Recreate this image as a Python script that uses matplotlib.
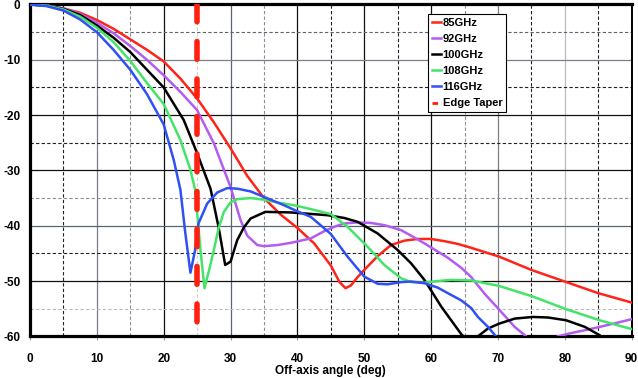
#!/usr/bin/env python3

import matplotlib
matplotlib.use("Agg")
import matplotlib.pyplot as plt
from matplotlib.lines import Line2D

plt.rcParams['font.family'] = ['Liberation Sans', 'DejaVu Sans']
plt.rcParams['font.weight'] = 'bold'
plt.rcParams['axes.unicode_minus'] = False

# Datos (angulo en grados, nivel en dB)
ang_85 = [0, 2.5, 5, 7.5, 10, 12.5, 15, 17.5, 20, 22.5, 25, 27.5, 30, 32.5, 35, 37.5, 40, 42.5, 45, 46.3,
          47.2, 48, 49, 50, 52, 54, 56, 58, 60, 62, 64, 66, 70.2, 75, 80, 85, 90]
db_85 = [0, -0.2, -0.7, -1.5, -2.8, -4.4, -6.3, -8.2, -10.3, -13.4, -17.0, -21.3, -26, -31.0, -35.0,
         -38.0, -40.4, -43.2, -47.2, -50.2, -51.3, -50.8, -49.3, -48.0, -45.5, -43.5, -42.7, -42.4,
         -42.4, -42.8, -43.3, -44.0, -45.6, -48.0, -50.1, -52.2, -53.9]

ang_92 = [0, 2.5, 5, 7.5, 10, 12.5, 15, 17.5, 20, 22.5, 25, 27.5, 30, 31.5, 32.5, 34, 35, 37, 39, 42, 44,
          45.5, 47, 49, 51, 53, 55.5, 57, 59, 62.5, 64.5, 66, 68, 70.2, 72.5, 74.5, 76.5, 79, 81, 83,
          85.2, 88, 90]
db_92 = [0, -0.2, -0.7, -1.7, -3.3, -5.2, -7.5, -10.0, -12.8, -15.8, -19.1, -25.1, -33.0, -39.0, -41.8,
         -43.5, -43.7, -43.5, -43.1, -42.3, -41.0, -40.2, -39.6, -39.4, -39.5, -39.9, -40.8, -41.8,
         -43.2, -45.8, -47.6, -49.3, -52.3, -55.2, -58.3, -60.3, -61.3, -60.0, -59.4, -58.9, -58.3,
         -57.5, -56.9]

ang_100 = [0, 2.5, 5, 7.5, 10, 12.5, 15, 17.5, 20, 23, 25, 27, 28.2, 29.2, 30, 31, 32, 33, 35.2, 39, 44.5,
           47, 49, 52, 55, 57, 59, 61.5, 64.5, 65.7, 67, 68.5, 70.2, 72.5, 75.2, 77.5, 80.2, 83, 85.2,
           86.5]
db_100 = [0, -0.2, -0.8, -1.9, -3.8, -6.0, -8.6, -11.8, -15.0, -20.9, -26.9, -33.3, -40.2, -47.1, -46.5,
          -42.6, -40.3, -38.7, -37.5, -37.6, -38.1, -38.6, -39.3, -41.4, -44.4, -46.8, -49.8, -54.6,
          -59.6, -61.0, -60.0, -58.6, -57.7, -56.8, -56.5, -56.6, -57.1, -58.3, -59.8, -61.0]

ang_108 = [0, 2.5, 5, 7.5, 10, 12.5, 15, 17.5, 20, 22.5, 24, 24.7, 25.5, 26.1, 26.8, 27.5, 28.2, 29, 30,
           31, 33, 35, 37, 39.5, 42, 45, 47.5, 50.5, 53, 55.5, 57, 59, 61, 63, 66, 70.2, 75.2, 80.2,
           85.2, 90]
db_108 = [0, -0.2, -0.9, -2.2, -4.2, -6.8, -10.2, -14.2, -18.0, -24.5, -29.9, -33.5, -44.4, -51.3, -48.0,
          -44.4, -40.5, -37.5, -35.8, -35.2, -35.0, -35.3, -35.8, -36.3, -37.0, -37.9, -40.2, -43.8,
          -47.1, -49.5, -50.2, -50.3, -50.0, -49.8, -49.9, -50.9, -52.8, -55.1, -57.1, -58.7]

ang_116 = [0, 2.5, 5, 7.5, 10, 12.5, 15, 17.5, 20, 21.5, 22.5, 23.2, 24, 24.7, 25.2, 26.5, 28, 29.5, 31,
           33, 35, 38, 40, 42, 45, 47.5, 50, 52, 53.5, 55.5, 57, 59, 61, 62.5, 64.5, 66, 67, 68.5, 69.7,
           71]
db_116 = [0, -0.3, -1.1, -2.7, -5.0, -8.2, -11.8, -16.2, -21.7, -28.1, -33.5, -41.0, -48.5, -44.4, -39.6,
          -36.0, -34.0, -33.2, -33.3, -33.8, -34.8, -36.3, -37.4, -38.4, -41.5, -45.6, -49.2, -50.5,
          -50.6, -50.2, -50.1, -50.4, -51.2, -52.2, -53.5, -54.9, -56.5, -58.3, -60.0, -62.0]

edge_taper_deg = 25

series = [
    (ang_85, db_85, '85GHz', '#ff2318'),
    (ang_92, db_92, '92GHz', '#b45cf0'),
    (ang_100, db_100, '100GHz', '#000000'),
    (ang_108, db_108, '108GHz', '#44e468'),
    (ang_116, db_116, '116GHz', '#3050f4'),
]

fig = plt.figure(figsize=(6.38, 3.78), dpi=100)
ax = fig.add_axes([0.047, 0.1103, 0.9431, 0.8778])

ax.set_xlim(0, 90)
ax.set_ylim(-60, 0)

# Rejilla (colores variables como en la imagen original)
vmajor = {10: '#7a7f88', 20: '#111111', 30: '#5a6470', 40: '#111111', 50: '#111111',
          60: '#111111', 70: '#7a7f88', 80: '#b8bcc0'}
vminor = {5: '#222222', 15: '#8a9098', 25: '#d0d0d0', 35: '#8a9098', 45: '#222222',
          55: '#222222', 65: '#8a9098', 75: '#222222', 85: '#222222'}
hmajor = {-10: '#7a7f88', -20: '#111111', -30: '#111111', -40: '#5a6470', -50: '#111111'}
hminor = {-5: '#5a6470', -15: '#222222', -25: '#222222', -35: '#8a9098', -45: '#222222',
          -55: '#b8bcc0'}
for xv, c in vmajor.items():
    ax.axvline(xv, color=c, lw=0.9, zorder=1)
for xv, c in vminor.items():
    ax.axvline(xv, color=c, lw=0.8, ls=(0, (3, 2)), zorder=1)
for yv, c in hmajor.items():
    ax.axhline(yv, color=c, lw=0.9, zorder=1)
for yv, c in hminor.items():
    ax.axhline(yv, color=c, lw=0.8, ls=(0, (3, 2)), zorder=1)

for ang, db, lab, col in series:
    ax.plot(ang, db, color=col, lw=1.8, label=lab, zorder=3, solid_joinstyle='round')

ax.plot([edge_taper_deg, edge_taper_deg], [0, -60], color='#ff2010', lw=4,
        dashes=(3.2, 3.55), dash_capstyle='round', zorder=4)

ax.set_xticks(range(0, 91, 10))
ax.set_yticks(range(-60, 1, 10))
ax.tick_params(axis='x', length=3, width=0.8, pad=9, labelsize=8.5, color='#999999')
ax.tick_params(axis='y', length=0, pad=7, labelsize=8.5)
for lbl in ax.get_xticklabels() + ax.get_yticklabels():
    lbl.set_fontweight('bold')

ax.set_xlabel('Off-axis angle (deg)', fontsize=8.5, fontweight='bold')
ax.xaxis.set_label_coords(0.5, -0.087)

for s in ['left', 'bottom', 'top']:
    ax.spines[s].set_linewidth(2.3)
ax.spines['right'].set_linewidth(1.4)

handles = [Line2D([0], [0], color=col, lw=1.8) for _, _, _, col in series]
handles.append(Line2D([0], [0], color='#ff2010', lw=2, dashes=(2, 1.2)))
labels = [lab for _, _, lab, _ in series] + ['Edge Taper']
leg = ax.legend(handles, labels, loc='upper left', bbox_to_anchor=(0.671, 0.963),
                bbox_transform=fig.transFigure, prop={'weight': 'bold', 'size': 8},
                handlelength=0.8, handletextpad=0.15, labelspacing=0.55, borderpad=0.35,
                borderaxespad=0, fancybox=False, framealpha=1, edgecolor='black')
leg.get_frame().set_linewidth(0.8)
leg.set_zorder(5)

plt.savefig('out.png', dpi=100)
plt.close()
